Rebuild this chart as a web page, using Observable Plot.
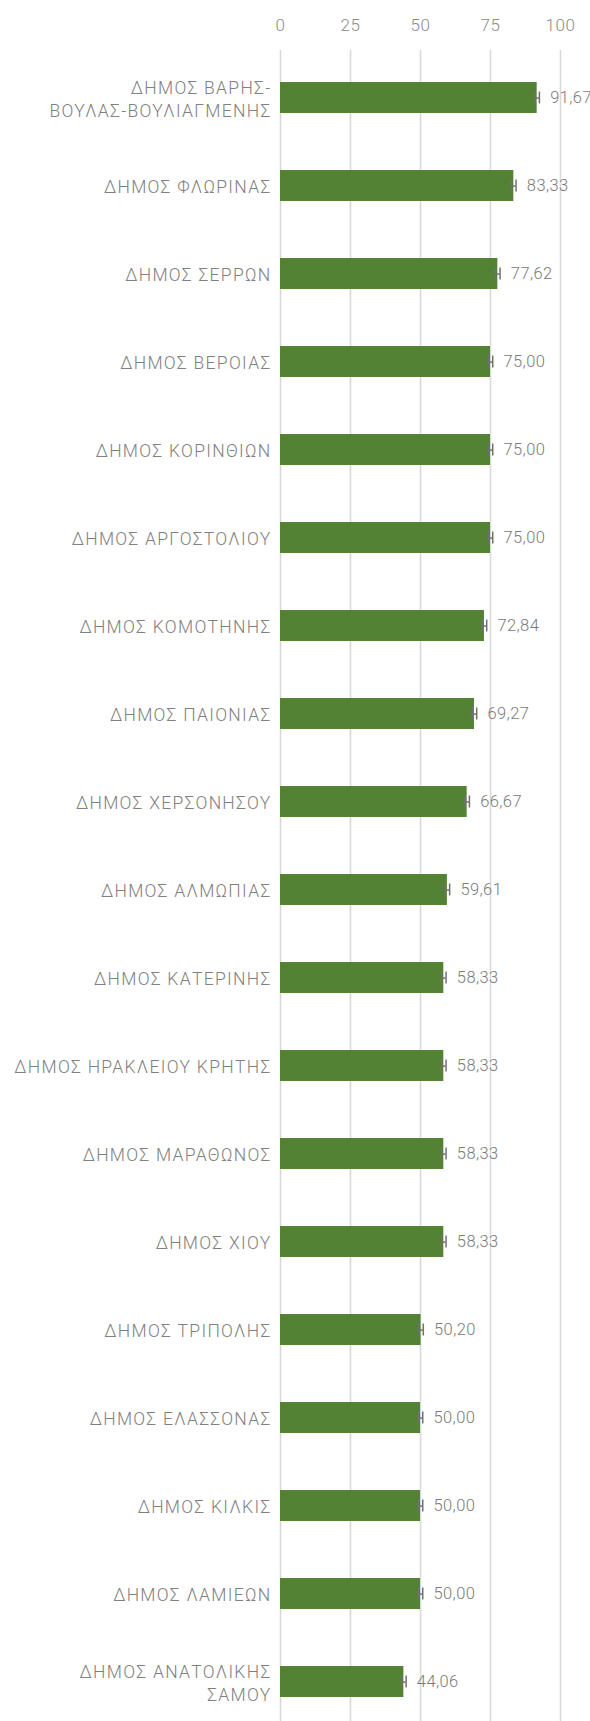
<!DOCTYPE html>
<html>
<head>
<meta charset="utf-8">
<script src="https://cdn.jsdelivr.net/npm/d3@7"></script>
<script src="https://cdn.jsdelivr.net/npm/@observablehq/plot@0.6"></script>
<style>
  html, body { margin: 0; padding: 0; background: #ffffff; }
  #chart svg { display: block; overflow: visible; }
  #chart svg g[aria-label="y-axis tick label"] text { letter-spacing: 1.3px; }
  #chart svg g[aria-label="x-axis tick label"] text { letter-spacing: 0.5px; }
  #chart svg g[aria-label="text"] text { letter-spacing: 0.4px; }
</style>
</head>
<body>
<div id="chart"></div>
<script>
const municipalities = [
  "ΔΗΜΟΣ ΒΑΡΗΣ-\nΒΟΥΛΑΣ-ΒΟΥΛΙΑΓΜΕΝΗΣ",
  "ΔΗΜΟΣ ΦΛΩΡΙΝΑΣ",
  "ΔΗΜΟΣ ΣΕΡΡΩΝ",
  "ΔΗΜΟΣ ΒΕΡΟΙΑΣ",
  "ΔΗΜΟΣ ΚΟΡΙΝΘΙΩΝ",
  "ΔΗΜΟΣ ΑΡΓΟΣΤΟΛΙΟΥ",
  "ΔΗΜΟΣ ΚΟΜΟΤΗΝΗΣ",
  "ΔΗΜΟΣ ΠΑΙΟΝΙΑΣ",
  "ΔΗΜΟΣ ΧΕΡΣΟΝΗΣΟΥ",
  "ΔΗΜΟΣ ΑΛΜΩΠΙΑΣ",
  "ΔΗΜΟΣ ΚΑΤΕΡΙΝΗΣ",
  "ΔΗΜΟΣ ΗΡΑΚΛΕΙΟΥ ΚΡΗΤΗΣ",
  "ΔΗΜΟΣ ΜΑΡΑΘΩΝΟΣ",
  "ΔΗΜΟΣ ΧΙΟΥ",
  "ΔΗΜΟΣ ΤΡΙΠΟΛΗΣ",
  "ΔΗΜΟΣ ΕΛΑΣΣΟΝΑΣ",
  "ΔΗΜΟΣ ΚΙΛΚΙΣ",
  "ΔΗΜΟΣ ΛΑΜΙΕΩΝ",
  "ΔΗΜΟΣ ΑΝΑΤΟΛΙΚΗΣ\nΣΑΜΟΥ"
];
const scores = [91.67, 83.33, 77.62, 75.00, 75.00, 75.00, 72.84, 69.27, 66.67, 59.61,
                58.33, 58.33, 58.33, 58.33, 50.20, 50.00, 50.00, 50.00, 44.06];
const errorHalfWidth = [0.8, 0.8, 0.8, 0.8, 0.8, 0.8, 0.8, 0.8, 0.8, 0.8,
                        0.8, 0.8, 0.8, 0.8, 0.8, 0.8, 0.8, 0.8, 0.8];
const xTicks = [0, 25, 50, 75, 100];

const data = municipalities.map((name, i) => ({
  name, value: scores[i], lo: scores[i] - errorHalfWidth[i], hi: scores[i] + errorHalfWidth[i]
}));

const fmt = v => d3.format(".2f")(v).replace(".", ",");
const FONT = "Roboto, 'Noto Sans', sans-serif";

const chart = Plot.plot({
  width: 590,
  height: 1721,
  marginLeft: 280,
  marginRight: 30,
  marginTop: 50,
  marginBottom: 0,
  style: { fontFamily: FONT, background: "#ffffff" },
  x: { domain: [0, 100] },
  y: { domain: municipalities, range: [20.6, 1757.6], padding: 0.65 },
  marks: [
    Plot.gridX(xTicks, { stroke: "#d9d9d9", strokeOpacity: 1, strokeWidth: 1.6 }),
    Plot.axisX(xTicks, {
      anchor: "top", tickSize: 0, tickPadding: 20, fontSize: 17,
      fill: "#8c8c8c", fontWeight: 300, label: null
    }),
    Plot.axisY({
      anchor: "left", tickSize: 0, tickPadding: 9, fontSize: 17.5,
      fill: "#808080", fontWeight: 300, lineHeight: 1.33, label: null
    }),
    Plot.barX(data, { x: "value", y: "name", fill: "#548235" }),
    Plot.ruleY(data, { x1: "lo", x2: "hi", y: "name", stroke: "#707070", strokeWidth: 1.5 }),
    Plot.tickX(data, { x: "lo", y: "name", stroke: "#707070", strokeWidth: 1.5, insetTop: 9.5, insetBottom: 9.5 }),
    Plot.tickX(data, { x: "hi", y: "name", stroke: "#707070", strokeWidth: 1.5, insetTop: 9.5, insetBottom: 9.5 }),
    Plot.text(data, {
      x: "value", y: "name", text: d => fmt(d.value), textAnchor: "start", dx: 13,
      fontSize: 16.5, fill: "#7a7a7a", fontWeight: 300
    })
  ]
});
document.getElementById("chart").appendChild(chart);
</script>
</body>
</html>
